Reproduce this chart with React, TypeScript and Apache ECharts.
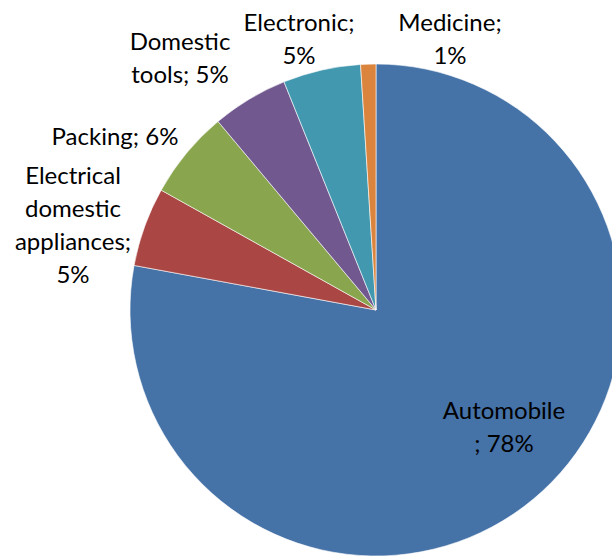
import React, { useEffect, useRef } from "react";
import * as echarts from "echarts";

const categories = ["Automobile", "Electrical domestic appliances", "Packing", "Domestic tools", "Electronic", "Medicine"];
const values = [77.9, 5.2, 5.8, 5.0, 5.1, 1.0];
const labelTexts = ["Automobile\n; 78%", "Electrical\ndomestic\nappliances;\n5%", "Packing; 6%", "Domestic\ntools; 5%", "Electronic;\n5%", "Medicine;\n1%"];
const colors = ["#4572A7", "#AA4643", "#89A54E", "#71588F", "#4198AF", "#DB843D"];
const labelPos = [
  [504, 426],
  [73, 224],
  [115, 135],
  [180, 57],
  [299, 38],
  [450, 38],
];

export default function App() {
  const ref = useRef<HTMLDivElement>(null);
  useEffect(() => {
    if (!ref.current) return;
    const chart = echarts.init(ref.current, null, { renderer: "svg" });
    chart.setOption({
      animation: false,
      backgroundColor: "#ffffff",
      series: [
        {
          type: "pie",
          center: [376, 310],
          radius: [0, 246],
          startAngle: 90,
          clockwise: true,
          avoidLabelOverlap: false,
          data: categories.map((c, i) => ({
            name: c,
            value: values[i],
            itemStyle: { color: colors[i] },
          })),
          itemStyle: { borderColor: "#ffffff", borderWidth: 0.6 },
          label: {
            show: true,
            position: "outside",
            alignTo: "none",
            overflow: "none",
            formatter: (p: any) => labelTexts[p.dataIndex],
            fontFamily: "Lato, 'Open Sans', sans-serif",
            fontSize: 24,
            lineHeight: 33,
            color: "#000000",
            align: "center",
          },
          labelLine: { show: false },
          labelLayout: (p: any) => ({
            x: labelPos[p.dataIndex][0],
            y: labelPos[p.dataIndex][1],
            align: "center",
            verticalAlign: "middle",
            width: 300,
          }),
          emphasis: { disabled: true },
        },
      ],
    });
    return () => chart.dispose();
  }, []);
  return (
    <div
      ref={ref}
      style={{ position: "fixed", left: 0, top: 0, width: 612, height: 557 }}
    />
  );
}
